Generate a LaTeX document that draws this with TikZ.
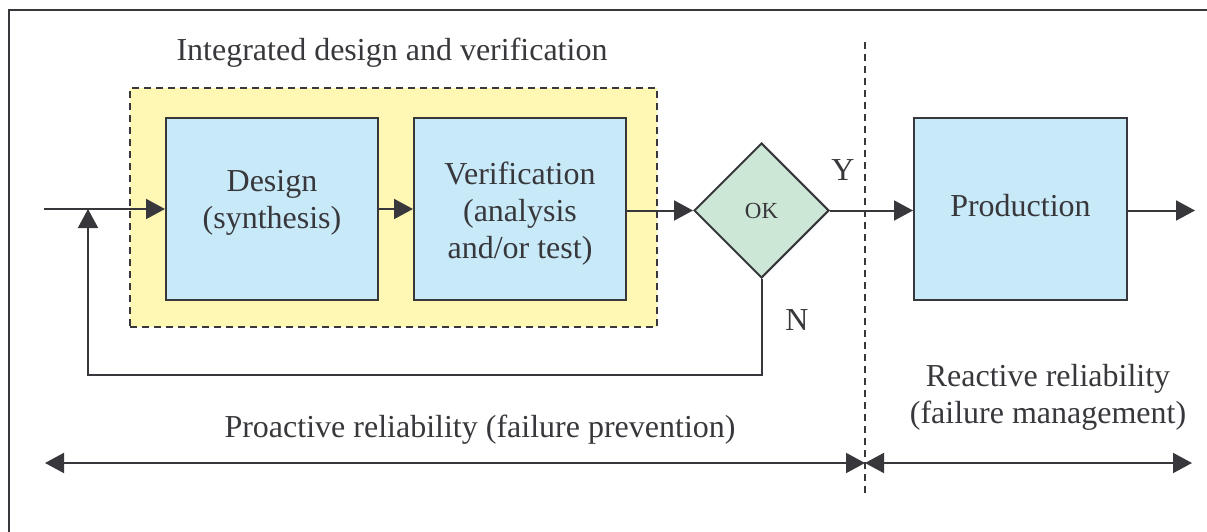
\documentclass[tikz,border=0pt]{standalone}
\usepackage{fontspec}
\setmainfont{Liberation Serif}
\usetikzlibrary{arrows.meta,shapes.geometric}
\definecolor{ink}{HTML}{38383C}
\definecolor{boxblue}{HTML}{C8E9F8}
\definecolor{boxyellow}{HTML}{FFF8B4}
\definecolor{boxgreen}{HTML}{CDE7D6}
\tikzset{
  big/.style={font=\rmfamily\fontsize{32}{37}\selectfont, text=ink},
  blockbox/.style={draw=ink, line width=2pt, fill=boxblue, minimum width=212pt, minimum height=182pt, inner sep=0pt},
  conn/.style={draw=ink, line width=2pt},
  arr/.style={conn, -{Triangle[length=19pt,width=20pt]}},
  darr/.style={conn, {Triangle[length=19pt,width=20pt]}-{Triangle[length=19pt,width=20pt]}},
  dashline/.style={draw=ink, line width=1.8pt, dash pattern=on 7pt off 5pt},
}
\begin{document}
\begin{tikzpicture}[x=1pt,y=-1pt]
\useasboundingbox (0,0) rectangle (1207,532);
\begin{scope}
\clip (0,0) rectangle (1207,532);
\draw[ink, line width=2.2pt] (9,560) -- (9,10) -- (1230,10);
\end{scope}

\node[big] (title) at (392,53) {Integrated design and verification};
\node[dashline, fill=boxyellow, minimum width=527pt, minimum height=239pt, inner sep=0pt] (integ) at (393.5,207.5) {};

\node[blockbox] (design) at (272,209) {};
\node[blockbox] (verif) at (520,209) {};
\node[draw=ink, line width=2pt, fill=boxgreen, shape=diamond, minimum width=135pt, minimum height=135pt, inner sep=0pt, font=\rmfamily\fontsize{23}{26}\selectfont, text=ink] (ok) at (761.5,210.5) {OK};
\node[blockbox, minimum width=213pt] (prod) at (1020.5,209) {};

\node[big, align=center] (designtxt) at (272,203) {Design\\(synthesis)};
\node[big, align=center] (veriftxt) at (520,214) {Verification\\(analysis\\and/or test)};
\node[big] (prodtxt) at (1020.5,206) {Production};

\coordinate (in) at (44,209);
\coordinate (fb) at (88,209);
\coordinate (fbcorner) at (88,375);
\coordinate (out) at (1195,209);
\coordinate (dtop) at (865,42);
\coordinate (dbot) at (865,493);
\coordinate (bl) at (45,463);
\coordinate (bm) at (865,463);
\coordinate (br) at (1192,463);

\draw[arr] (in) -- (design.west);
\draw[arr] (design.east) -- (verif.west);
\draw[arr] (verif.east |- ok.west) -- (ok.west);
\draw[arr] (ok.east) -- (prod.west |- ok.east);
\draw[arr] (prod.east |- ok.east) -- (out |- ok.east);
\draw[arr] (ok.south) -- (ok.south |- fbcorner) -- (fbcorner) -- (fb);

\draw[dashline] (dtop) -- (dbot);
\draw[darr] (bl) -- (bm);
\draw[darr] (bm) -- (br);

\node[big] (ylab) at (843,170) {Y};
\node[big] (nlab) at (797,320) {N};
\node[big] (pro) at (480,430) {Proactive reliability (failure prevention)};
\node[big, align=center] (rea) at (1048,397) {Reactive reliability\\(failure management)};
\end{tikzpicture}
\end{document}
